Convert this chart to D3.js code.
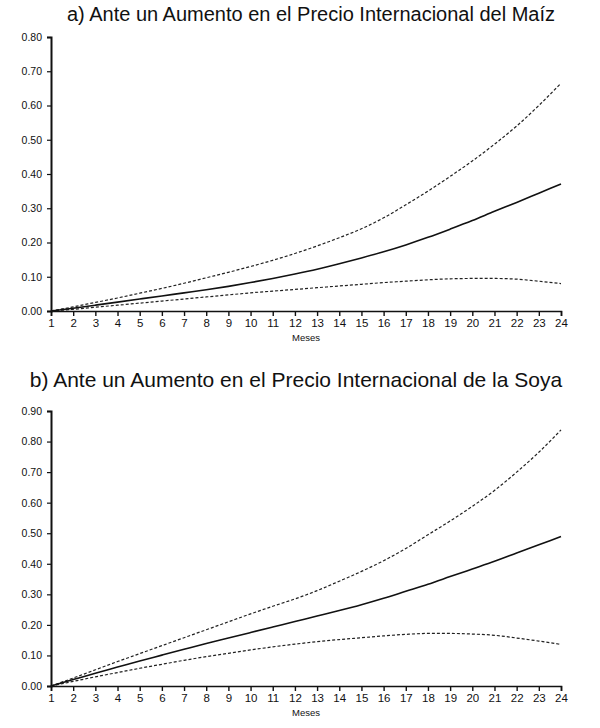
<!DOCTYPE html>
<html>
<head>
<meta charset="utf-8">
<script src="https://cdn.jsdelivr.net/npm/d3@7"></script>
<style>
  html, body { margin: 0; padding: 0; background: #fff; }
  svg { display: block; }
  text { font-family: "Liberation Sans", Arial, sans-serif; fill: #111; }
</style>
</head>
<body>
<svg id="chart" width="600" height="728"></svg>
<script>
// ---- DATA ----
const months = d3.range(1, 25);
const titleA = "a) Ante un Aumento en el Precio Internacional del Maíz";
const titleB = "b) Ante un Aumento en el Precio Internacional de la Soya";
const xLabel = "Meses";

const maizUpper = [0.000, 0.012, 0.025, 0.038, 0.052, 0.066, 0.081, 0.097, 0.113, 0.130, 0.148, 0.168,
                   0.190, 0.214, 0.240, 0.272, 0.310, 0.350, 0.393, 0.438, 0.487, 0.540, 0.600, 0.665];
const maizMid   = [0.000, 0.008, 0.017, 0.026, 0.035, 0.044, 0.053, 0.062, 0.072, 0.083, 0.095, 0.108,
                   0.122, 0.138, 0.155, 0.173, 0.193, 0.215, 0.239, 0.264, 0.291, 0.317, 0.344, 0.371];
const maizLow   = [0.000, 0.005, 0.011, 0.017, 0.023, 0.029, 0.035, 0.041, 0.047, 0.053, 0.058, 0.063,
                   0.068, 0.073, 0.078, 0.083, 0.087, 0.091, 0.094, 0.095, 0.095, 0.093, 0.087, 0.080];

const soyaUpper = [0.000, 0.026, 0.053, 0.080, 0.106, 0.132, 0.158, 0.184, 0.210, 0.236, 0.261, 0.285,
                   0.312, 0.343, 0.375, 0.410, 0.450, 0.495, 0.540, 0.588, 0.640, 0.700, 0.765, 0.838];
const soyaMid   = [0.000, 0.021, 0.042, 0.062, 0.082, 0.101, 0.120, 0.139, 0.157, 0.175, 0.193, 0.211,
                   0.229, 0.247, 0.266, 0.287, 0.310, 0.333, 0.358, 0.383, 0.408, 0.435, 0.462, 0.489];
const soyaLow   = [0.000, 0.015, 0.030, 0.044, 0.058, 0.071, 0.084, 0.096, 0.107, 0.118, 0.128, 0.137,
                   0.145, 0.152, 0.158, 0.164, 0.169, 0.172, 0.172, 0.170, 0.166, 0.157, 0.147, 0.136];

const yTicksA = [0, 0.1, 0.2, 0.3, 0.4, 0.5, 0.6, 0.7, 0.8];
const yTicksB = [0, 0.1, 0.2, 0.3, 0.4, 0.5, 0.6, 0.7, 0.8, 0.9];

// ---- DRAW ----
const svg = d3.select("#chart");

function panel(cfg) {
  const g = svg.append("g");
  const x = d3.scaleLinear().domain([1, 24]).range([51, 561]);
  const y = d3.scaleLinear().domain([0, cfg.yMax]).range([cfg.y0, cfg.yTop]);

  g.append("text")
    .attr("x", cfg.titleX).attr("y", cfg.titleY)
    .attr("text-anchor", "middle")
    .style("font-size", cfg.titleSize)
    .text(cfg.title);

  const xAxis = g.append("g")
    .attr("transform", `translate(0,${cfg.y0})`)
    .call(d3.axisBottom(x).tickValues(months).tickFormat(d3.format("d")).tickSize(5).tickPadding(3));
  xAxis.select(".domain").attr("stroke", "#111").attr("stroke-width", 1.6);
  xAxis.selectAll(".tick line").attr("stroke", "#111").attr("stroke-width", 1.4);
  xAxis.selectAll(".tick text").style("font-size", "11.5px").style("font-family", "Liberation Sans, Arial, sans-serif").attr("fill", "#000");

  const yAxis = g.append("g")
    .attr("transform", `translate(51,0)`)
    .call(d3.axisLeft(y).tickValues(cfg.yTicks).tickFormat(d3.format(".2f")).tickSize(4).tickPadding(5));
  yAxis.select(".domain").attr("stroke", "#111").attr("stroke-width", 2);
  yAxis.selectAll(".tick line").attr("stroke", "#111").attr("stroke-width", 1.2);
  yAxis.selectAll(".tick text").style("font-size", "10.5px").style("font-family", "Liberation Sans, Arial, sans-serif").attr("fill", "#000");

  g.append("text")
    .attr("x", 306).attr("y", cfg.y0 + 30)
    .attr("text-anchor", "middle")
    .style("font-size", "9.5px")
    .text(xLabel);

  const line = d3.line().x((d, i) => x(months[i])).y(d => y(d)).curve(d3.curveMonotoneX);

  g.append("path").datum(cfg.upper).attr("d", line)
    .attr("fill", "none").attr("stroke", "#222").attr("stroke-width", 1.2).attr("stroke-dasharray", "3,2");
  g.append("path").datum(cfg.low).attr("d", line)
    .attr("fill", "none").attr("stroke", "#222").attr("stroke-width", 1.2).attr("stroke-dasharray", "3,2");
  g.append("path").datum(cfg.mid).attr("d", line)
    .attr("fill", "none").attr("stroke", "#111").attr("stroke-width", 1.6);
}

panel({ title: titleA, titleX: 311, titleY: 21, titleSize: "20px", yMax: 0.8, y0: 311, yTop: 37, yTicks: yTicksA,
        upper: maizUpper, mid: maizMid, low: maizLow });
panel({ title: titleB, titleX: 296, titleY: 387, titleSize: "21px", yMax: 0.9, y0: 686, yTop: 411, yTicks: yTicksB,
        upper: soyaUpper, mid: soyaMid, low: soyaLow });
</script>
</body>
</html>
